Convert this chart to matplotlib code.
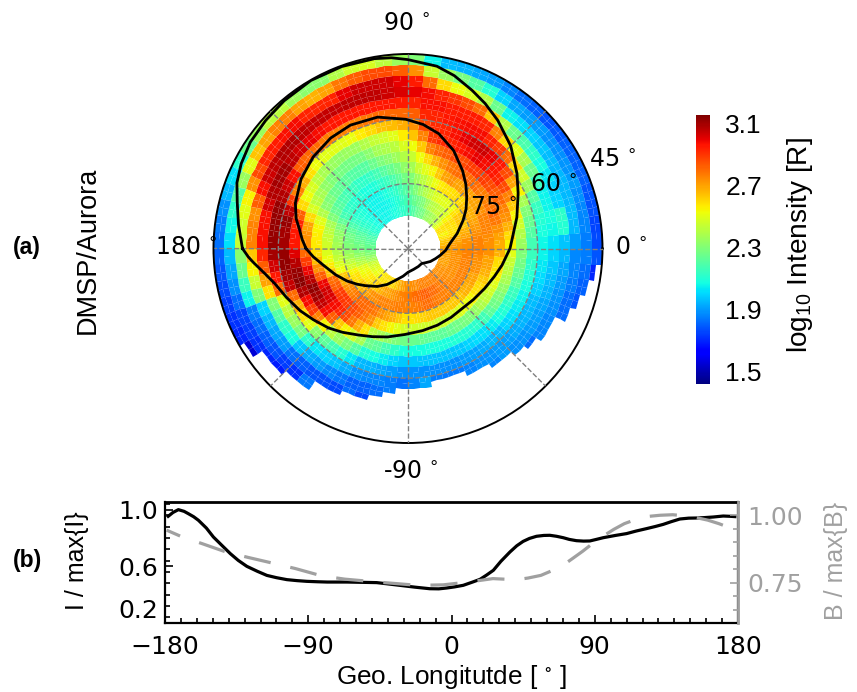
import numpy as np
import matplotlib
matplotlib.use("Agg")
import matplotlib.pyplot as plt
from matplotlib.ticker import MultipleLocator

plt.rcParams["font.family"] = "DejaVu Sans"
plt.rcParams["mathtext.default"] = "regular"

W, H = 857, 692
ARIAL = "Liberation Sans"
DEJAVU = "DejaVu Sans"

# log10 intensity per 5 deg longitude sector (-180 ... 175), colatitude rings of 2.5 deg from 7.5
intensity = [
    [2.27,2.30,2.34,2.40,2.49,2.60,2.81,3.01,3.12,3.10,2.93,2.63,2.32,1.96,1.80],
    [2.30,2.33,2.37,2.43,2.52,2.65,2.89,3.07,3.13,3.03,2.83,2.55,2.25,1.92,1.78],
    [2.34,2.38,2.42,2.48,2.57,2.73,2.99,3.12,3.10,2.96,2.70,2.45,2.15,1.88,1.76],
    [2.38,2.42,2.47,2.53,2.64,2.83,3.07,3.14,3.05,2.80,2.58,2.30,2.05,1.82,1.74],
    [2.45,2.50,2.55,2.63,2.80,2.99,3.13,3.08,2.80,2.50,2.30,2.00,1.85,1.75,1.72],
    [2.48,2.53,2.58,2.68,2.83,3.03,3.10,2.98,2.67,2.42,2.20,1.95,1.82,1.74,1.70],
    [2.50,2.55,2.60,2.73,2.89,3.02,3.05,2.89,2.58,2.35,2.12,1.92,1.80,1.72,1.55],
    [2.52,2.57,2.63,2.76,2.90,2.98,2.98,2.76,2.50,2.28,2.08,1.90,1.78,1.70],
    [2.54,2.59,2.67,2.78,2.89,2.93,2.83,2.55,2.32,2.12,1.98,1.83,1.74,1.68],
    [2.56,2.61,2.70,2.81,2.86,2.86,2.63,2.42,2.22,2.03,1.93,1.80,1.72],
    [2.58,2.64,2.73,2.81,2.83,2.78,2.55,2.35,2.17,2.00,1.90,1.78,1.84],
    [2.58,2.67,2.74,2.80,2.78,2.68,2.47,2.28,2.10,1.97,1.87,1.77],
    [2.60,2.70,2.76,2.78,2.73,2.58,2.38,2.20,2.03,1.93,1.84,1.76],
    [2.60,2.70,2.76,2.73,2.63,2.42,2.25,2.10,1.95,1.88,1.80,1.82],
    [2.63,2.72,2.76,2.70,2.58,2.38,2.22,2.07,1.94,1.87,1.80,1.76],
    [2.67,2.74,2.77,2.67,2.54,2.33,2.17,2.04,1.92,1.86,1.82],
    [2.70,2.76,2.77,2.63,2.50,2.29,2.12,2.00,1.90,1.85,1.85],
    [2.73,2.77,2.76,2.58,2.47,2.26,2.08,1.98,1.88,1.83],
    [2.73,2.78,2.76,2.58,2.46,2.25,2.07,1.98,1.88,1.86],
    [2.74,2.80,2.77,2.60,2.46,2.24,2.07,1.97,1.88,1.92],
    [2.74,2.81,2.78,2.61,2.46,2.23,2.08,1.97,1.88,1.85],
    [2.76,2.82,2.80,2.63,2.46,2.22,2.08,1.97,1.88,1.84],
    [2.76,2.83,2.80,2.63,2.45,2.22,2.08,1.97,1.88,1.84],
    [2.76,2.81,2.78,2.63,2.46,2.24,2.09,1.98,1.90,1.86],
    [2.76,2.80,2.77,2.63,2.47,2.26,2.10,2.00,1.91,1.88],
    [2.76,2.78,2.77,2.63,2.48,2.28,2.11,2.01,1.93,1.89,1.86],
    [2.76,2.77,2.76,2.63,2.50,2.30,2.12,2.02,1.95,1.90,1.90],
    [2.74,2.76,2.76,2.64,2.52,2.34,2.16,2.04,1.96,1.91,1.88],
    [2.73,2.74,2.76,2.67,2.55,2.39,2.22,2.07,2.00,1.93,1.89,1.82],
    [2.73,2.73,2.76,2.68,2.58,2.43,2.26,2.10,2.02,1.94,1.90,1.86],
    [2.72,2.73,2.76,2.70,2.60,2.47,2.30,2.13,2.04,1.95,1.91,1.87],
    [2.70,2.73,2.76,2.70,2.63,2.50,2.33,2.15,2.05,1.96,1.92,1.88,1.82],
    [2.70,2.73,2.76,2.73,2.67,2.55,2.38,2.20,2.08,1.99,1.94,1.89,1.82,1.78],
    [2.70,2.73,2.76,2.73,2.70,2.58,2.42,2.24,2.10,2.01,1.96,1.90,1.85,1.80],
    [2.70,2.73,2.76,2.74,2.70,2.60,2.45,2.27,2.12,2.03,1.98,1.92,1.86,1.82,1.70],
    [2.70,2.73,2.76,2.76,2.73,2.67,2.50,2.30,2.15,2.05,2.00,1.95,1.87,1.85,1.78],
    [2.68,2.72,2.74,2.76,2.73,2.68,2.55,2.35,2.17,2.06,2.02,1.97,1.90,1.85,1.76],
    [2.65,2.70,2.73,2.76,2.74,2.70,2.60,2.40,2.20,2.08,2.06,2.10,1.95,1.86,1.75],
    [2.63,2.67,2.70,2.74,2.76,2.73,2.67,2.46,2.24,2.10,2.08,2.12,1.96,1.87,1.77],
    [2.58,2.60,2.67,2.72,2.76,2.78,2.73,2.55,2.30,2.14,2.05,2.00,1.95,1.88,1.78],
    [2.55,2.58,2.63,2.70,2.76,2.81,2.76,2.63,2.38,2.20,2.05,2.00,1.95,1.90,1.80],
    [2.58,2.58,2.63,2.68,2.73,2.78,2.81,2.76,2.55,2.35,2.15,2.03,1.95,1.89,1.80],
    [2.58,2.60,2.63,2.67,2.70,2.76,2.83,2.86,2.70,2.46,2.25,2.07,1.96,1.88,1.80],
    [2.52,2.55,2.58,2.64,2.70,2.77,2.86,2.93,2.86,2.60,2.38,2.12,1.98,1.88,1.79],
    [2.45,2.48,2.52,2.60,2.70,2.80,2.89,2.96,2.96,2.80,2.50,2.18,2.00,1.90,1.78],
    [2.40,2.45,2.50,2.60,2.70,2.80,2.89,2.98,3.00,2.89,2.60,2.25,2.02,1.90,1.80],
    [2.38,2.44,2.50,2.58,2.70,2.80,2.89,3.00,3.04,2.94,2.76,2.40,2.05,1.92,1.82],
    [2.36,2.42,2.50,2.58,2.73,2.80,2.86,2.98,3.03,2.98,2.93,2.63,2.25,2.00,1.86],
    [2.33,2.40,2.48,2.56,2.70,2.78,2.86,2.96,3.00,2.98,2.95,2.80,2.40,2.10,1.90],
    [2.28,2.35,2.44,2.52,2.63,2.73,2.83,2.94,2.97,2.97,2.95,2.86,2.48,2.20,1.92],
    [2.26,2.30,2.40,2.47,2.55,2.67,2.81,2.92,2.94,2.96,2.95,2.90,2.52,2.28,1.94],
    [2.24,2.27,2.35,2.42,2.50,2.60,2.76,2.89,2.92,2.94,2.97,2.94,2.60,2.35,1.96],
    [2.20,2.24,2.30,2.36,2.45,2.53,2.63,2.76,2.86,2.93,2.97,2.98,2.80,2.45,2.05],
    [2.16,2.20,2.25,2.30,2.37,2.45,2.53,2.64,2.73,2.83,2.94,3.00,2.95,2.73,2.30],
    [2.14,2.17,2.20,2.27,2.33,2.40,2.48,2.56,2.68,2.81,2.95,3.02,3.00,2.83,2.35],
    [2.12,2.14,2.17,2.22,2.28,2.36,2.42,2.50,2.65,2.81,2.96,3.04,3.03,2.86,2.42],
    [2.10,2.10,2.13,2.18,2.24,2.32,2.39,2.47,2.64,2.80,2.96,3.06,3.04,2.86,2.48],
    [2.08,2.07,2.10,2.15,2.21,2.29,2.37,2.44,2.60,2.78,2.96,3.06,3.04,2.83,2.46],
    [2.07,2.06,2.08,2.12,2.17,2.25,2.32,2.40,2.56,2.76,2.96,3.06,3.00,2.78,2.40],
    [2.06,2.05,2.06,2.09,2.14,2.21,2.28,2.36,2.52,2.76,2.96,3.05,2.94,2.70,2.32],
    [2.05,2.05,2.05,2.08,2.12,2.20,2.27,2.35,2.50,2.76,2.96,3.05,2.93,2.67,2.32],
    [2.05,2.05,2.05,2.08,2.13,2.20,2.27,2.34,2.50,2.77,2.98,3.05,2.94,2.70,2.36],
    [2.06,2.05,2.06,2.10,2.15,2.22,2.28,2.35,2.50,2.80,3.00,3.06,2.98,2.76,2.42],
    [2.06,2.06,2.07,2.11,2.16,2.23,2.30,2.38,2.53,2.81,3.03,3.08,2.97,2.76,2.42],
    [2.07,2.08,2.09,2.12,2.18,2.25,2.33,2.42,2.58,2.83,3.06,3.08,2.95,2.70,2.35],
    [2.09,2.10,2.11,2.14,2.21,2.29,2.38,2.48,2.68,2.97,3.10,3.06,2.93,2.64,2.25],
    [2.11,2.12,2.14,2.17,2.24,2.32,2.42,2.53,2.76,3.04,3.10,3.04,2.86,2.50,2.12],
    [2.14,2.16,2.18,2.23,2.30,2.40,2.48,2.60,2.89,3.08,3.08,2.97,2.73,2.35,2.02],
    [2.18,2.20,2.23,2.29,2.38,2.50,2.60,2.83,3.06,3.12,3.03,2.83,2.55,2.20,1.95],
    [2.20,2.23,2.26,2.33,2.42,2.55,2.70,2.93,3.12,3.12,2.97,2.73,2.50,2.12,1.88],
    [2.22,2.25,2.28,2.35,2.45,2.56,2.73,2.96,3.10,3.12,2.97,2.76,2.46,2.06,1.85],
    [2.24,2.27,2.30,2.37,2.46,2.57,2.74,2.96,3.10,3.12,2.97,2.76,2.44,2.02,1.83],
]

# outer colatitude reached by the data in each sector
outer_colat = [
    45, 45, 45, 45, 45, 45, 43.75, 41.25, 41.25, 40, 40, 37.5,
    37.5, 36.25, 36.25, 35, 33.75, 32.5, 32.5, 32.5, 31.25, 31.25, 31.25, 32.5,
    32.5, 33.75, 33.75, 35, 36.25, 37.5, 37.5, 40, 41.25, 42.5, 43.75, 45,
    45, 45, 45, 45, 45, 45, 45, 45, 45, 45, 45, 45,
    45, 45, 45, 45, 45, 45, 45, 45, 45, 45, 45, 45,
    45, 45, 45, 45, 45, 45, 45, 45, 45, 45, 45, 45,
]

inner_lon = [-180, -175, -169, -160, -152, -145, -139, -129, -120, -112, -100, -90, -75, -60, -48,
             -38, -30, -20, -12, -3, 7, 17, 27, 34, 41, 48, 55, 65, 75, 83, 91, 103, 115, 125,
             136, 147, 158, 165, 170, 175, 180]
inner_colat = [23.6, 22, 20, 17.8, 16, 14.4, 13.1, 11.3, 9.6, 8, 6.5, 5.5, 5, 4.8, 4.7,
               5.3, 6, 6.8, 7.6, 8.7, 9.8, 11.9, 14.3, 16.2, 18, 20, 22, 25, 27.5, 28.9, 29.9, 31.2, 31.5, 31.2,
               30.5, 29.5, 28.1, 26.8, 25.5, 24.6, 23.6]
outer_lon = [-180, -177, -175, -170, -165, -158, -150, -143, -135, -128, -120, -112, -103, -92, -80,
             -69, -58, -48, -38, -27.5, -18, -10, 0, 6, 16, 26.6, 34.5, 45, 55, 62, 68, 75, 81, 90,
             95, 100, 110, 120, 130, 138, 146, 153, 159, 165, 172, 180]
outer_curve = [38.3, 37, 36, 33.6, 31.8, 30.3, 28.8, 27.4, 26, 24.6, 23.1, 22, 21, 19.9, 19.3,
               19, 18.8, 18.7, 19.2, 20, 21, 22.1, 23.6, 24.3, 26.2, 28.5, 30.6, 33.6, 36.2, 38, 39.5, 41.4, 42.7, 43.7,
               44.3, 44.6, 44.8, 44.9, 44.6, 44.3, 44, 43.3, 42.4, 40.9, 39.6, 38.3]

line_lon = [-178, -175, -171.6, -168, -165.4, -162, -159, -154, -149.6, -144, -139, -134, -128.6,
            -122, -116, -110, -103.4, -97, -90.9, -84, -78, -72, -65.8, -56, -47, -40, -32.6, -23,
            -13.7, -8, -3, 2, 7.4, 13, 17.9, 22, 26.3, 31, 36.7, 41, 45, 49, 53.4, 58, 61.8, 66,
            70.2, 74, 78.5, 83, 86.9, 91, 95.3, 103, 110, 116, 122.5, 128, 133, 138, 143.5, 149,
            154, 159, 164.4, 170.7, 175, 178]
norm_intensity = [.953, .98, 1.0, .988, .972, .95, .925, .87, .807, .745, .69, .642, .6,
                  .565, .536, .52, .506, .499, .494, .491, .489, .489, .489, .487, .485, .476, .466, .453,
                  .442, .441, .447, .455, .466, .488, .508, .538, .572, .635, .701, .745, .776, .797, .812, .818, .819, .812,
                  .802, .79, .781, .778, .779, .79, .802, .818, .831, .849, .866, .881, .896, .915, .934, .94,
                  .941, .944, .948, .955, .953, .951]
b_lon = [-179, -170, -156.6, -142, -127.6, -110.8, -98, -81.5, -67, -48, -21, -5.2, 11.6, 26,
         33, 40.8, 48, 56.2, 63, 70, 76, 82.4, 88.5, 95, 102, 108.6, 116, 124, 131, 139, 146, 154, 161, 168, 173, 178]
norm_b = [.945, .922, .895, .865, .844, .821, .803, .776, .764, .754, .741, .743, .754, .766,
          .764, .762, .768, .778, .795, .815, .84, .867, .895, .922, .948, .969, .985, .996, 1.0, 1.002, .998, .991, .982, .969, .958, .947]

cbar_ticks = [1.5, 1.9, 2.3, 2.7, 3.1]


def fx(px):
    return px / W


def fy(py):
    return 1 - py / H


fig = plt.figure(figsize=(W / 100, H / 100), dpi=100)

# polar map
ax = fig.add_axes([fx(213.5), fy(443), 389 / W, 389 / H], projection="polar")
lon_edges = np.radians(np.arange(-180, 180.1, 2.5))
colat_edges = 7.5 + 1.25 * np.arange(31)
grid = np.full((144, 30), np.nan)
for i, row in enumerate(intensity):
    grid[2 * i:2 * i + 2, :2 * len(row)] = np.repeat(row, 2)
    grid[2 * i:2 * i + 2, colat_edges[1:] > outer_colat[i]] = np.nan
mesh = ax.pcolormesh(lon_edges, colat_edges, np.ma.masked_invalid(grid.T), cmap="jet",
                     vmin=1.416, vmax=3.158, shading="flat", antialiased=True)
ax.plot(np.radians(inner_lon), inner_colat, color="k", lw=2, zorder=4)
ax.plot(np.radians(outer_lon), outer_curve, color="k", lw=2, zorder=4)
ax.set_rlim(0, 45)
ax.set_thetagrids(np.arange(0, 360, 45), [""] * 8)
ax.set_rgrids([15, 30], ["", ""])
ax.set_axisbelow(False)
ax.grid(True, color="gray", ls="--", lw=1)
ax.spines["polar"].set_linewidth(1.4)

for txt, px, py in [("90", 407, 24), ("180", 186, 248), ("0", 631, 248),
                    ("-90", 411, 472), ("45", 613, 160), ("60", 554, 185),
                    ("75", 494, 208)]:
    fig.text(fx(px), fy(py), txt + "$\\,^\\circ$", family=DEJAVU, fontsize=17, ha="center", va="center", zorder=6)

fig.text(fx(27), fy(248), "(a)", family=ARIAL, weight="bold", fontsize=16.5, ha="center", va="center")
fig.text(fx(27), fy(561), "(b)", family=ARIAL, weight="bold", fontsize=16.5, ha="center", va="center")
fig.text(fx(88), fy(250), "DMSP/Aurora", family=ARIAL, fontsize=19.5, rotation=90, ha="center", va="center")

# colorbar
cax = fig.add_axes([fx(696), fy(384), 14 / W, 269 / H])
cb = fig.colorbar(mesh, cax=cax, ticks=cbar_ticks)
cb.outline.set_visible(False)
cb.ax.tick_params(length=0, pad=11, labelsize=19)
cb.ax.set_yticklabels([f"{t:.1f}" for t in cbar_ticks], family=ARIAL)
fig.text(fx(800), fy(245), "log$_{10}$ Intensity [R]", family=ARIAL, fontsize=20.2, rotation=90,
         ha="center", va="center", math_fontfamily="dejavusans")

# longitude profile
ax2 = fig.add_axes([fx(165), fy(623), 573 / W, 121 / H])
ax2.plot(line_lon, norm_intensity, color="k", lw=2.3, zorder=3)
ax2.set_xlim(-180, 180)
ax2.set_ylim(0.2, 1.054)
ax2.set_xticks([-180, -90, 0, 90, 180])
ax2.xaxis.set_minor_locator(MultipleLocator(10))
ax2.set_yticks([0.2, 0.6, 1.0])
ax2.yaxis.set_minor_locator(MultipleLocator(0.08))
ax2.tick_params(which="major", direction="in", length=6, width=1.2, labelsize=18, pad=5,
                labelfontfamily=DEJAVU)
ax2.tick_params(which="minor", direction="in", length=3.5, width=1.2)
ax2.tick_params(axis="x", pad=9)
ax2.set_yticklabels(["0.2", "0.6", "1.0"])
ax2.get_yticklabels()[0].set_verticalalignment("bottom")
for s in ax2.spines.values():
    s.set_linewidth(1.6)
ax2.spines["top"].set_linewidth(2)

ax3 = ax2.twinx()
ax3.plot(b_lon, norm_b, color="#a0a0a0", lw=2.3, ls=(3.9, (8.5, 6.3)), zorder=2)
ax3.set_ylim(0.602, 1.049)
ax3.set_yticks([0.75, 1.0])
ax3.set_yticklabels(["0.75", "1.00"])
ax3.yaxis.set_minor_locator(MultipleLocator(0.05))
ax3.tick_params(which="major", direction="in", length=6, width=1.2, labelsize=18, pad=7,
                colors="#a0a0a0", labelfontfamily=DEJAVU)
ax3.tick_params(which="minor", direction="in", length=3.5, width=1.2, colors="#a0a0a0")
for name, s in ax3.spines.items():
    s.set_visible(name == "right")
ax3.spines["right"].set_color("#a0a0a0")
ax3.spines["right"].set_linewidth(2)

fig.text(fx(451), fy(677), "Geo. Longitutde [$\\,^\\circ\\,$]", family=ARIAL, fontsize=18.8, ha="center", va="center")
fig.text(fx(77), fy(561), "I / max{I}", family=ARIAL, fontsize=18, rotation=90, ha="center", va="center")
fig.text(fx(836), fy(561), "B / max{B}", family=ARIAL, fontsize=18, rotation=90, ha="center", va="center",
         color="#a0a0a0")

fig.savefig("out.png", dpi=100)
